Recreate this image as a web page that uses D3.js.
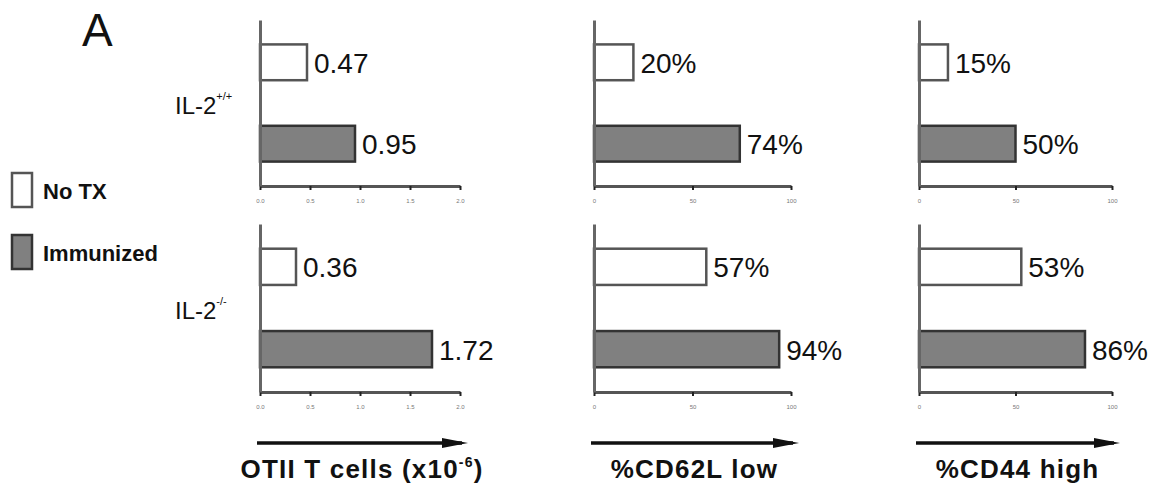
<!DOCTYPE html>
<html>
<head>
<meta charset="utf-8">
<script src="https://cdn.jsdelivr.net/npm/d3@7"></script>
<style>
  body { margin: 0; background: #fff; }
  text { font-family: "Liberation Sans", Arial, sans-serif; }
</style>
</head>
<body>
<div id="chart"></div>
<script>
// rows (genotype) and bar series
var genotypes = ["+/+", "-/-"];
var series = ["No TX", "Immunized"];

// OTII T cells (x10^-6)
var otiiNoTx = [0.47, 0.36];
var otiiImmunized = [0.95, 1.72];
// % CD62L low
var cd62NoTx = [20, 57];
var cd62Immunized = [74, 94];
// % CD44 high
var cd44NoTx = [15, 53];
var cd44Immunized = [50, 86];

// tick values
var otiiTicks = [0, 0.5, 1, 1.5, 2];
var pctTicks = [0, 50, 100];

var width = 1166, height = 489;

var svg = d3.select("#chart")
    .append("svg")
    .attr("width", width)
    .attr("height", height);

var fill = d3.scaleOrdinal().domain(series).range(["#ffffff", "#808080"]);
var stroke = d3.scaleOrdinal().domain(series).range(["#555555", "#333333"]);

var panels = [
    { title: "OTII T cells (x10", sup: "-6", close: ")", noTx: otiiNoTx, imm: otiiImmunized,
      max: 2, ticks: otiiTicks, fmt: d3.format(".2f"), x0: 260, x1: 460 },
    { title: "%CD62L low", noTx: cd62NoTx, imm: cd62Immunized,
      max: 100, ticks: pctTicks, fmt: function (d) { return d + "%"; }, x0: 594, x1: 791 },
    { title: "%CD44 high", noTx: cd44NoTx, imm: cd44Immunized,
      max: 100, ticks: pctTicks, fmt: function (d) { return d + "%"; }, x0: 919, x1: 1112 }
];
var rows = [{ top: 20, bottom: 186 }, { top: 224, bottom: 392 }];

// arrow head
svg.append("defs").append("marker")
    .attr("id", "arrow")
    .attr("markerUnits", "userSpaceOnUse")
    .attr("markerWidth", 26)
    .attr("markerHeight", 10)
    .attr("refX", 20)
    .attr("refY", 5)
    .attr("orient", "auto")
    .append("path")
    .attr("d", "M0,0 L26,5 L0,10 Z")
    .attr("fill", "#111");

// panel letter
svg.append("text")
    .attr("x", 82)
    .attr("y", 46)
    .style("font-size", "46px")
    .attr("fill", "#111")
    .text("A");

// legend
var legend = svg.append("g")
    .selectAll("g")
    .data(series)
    .enter()
    .append("g")
    .attr("transform", function (d, i) { return "translate(12," + (173 + i * 62) + ")"; });
legend.append("rect")
    .attr("width", 20)
    .attr("height", 34)
    .attr("fill", function (d) { return fill(d); })
    .attr("stroke", function (d) { return stroke(d); })
    .attr("stroke-width", 2.5);
legend.append("text")
    .attr("x", 31)
    .attr("y", 18)
    .attr("dominant-baseline", "central")
    .style("font-size", "22px")
    .style("font-weight", "bold")
    .attr("fill", "#111")
    .text(function (d) { return d; });

// genotype labels
rows.forEach(function (r, ri) {
    var y = d3.scaleBand().domain(series).range([r.top, r.bottom]).paddingInner(0.56).paddingOuter(0.3);
    var mid = (y(series[0]) + y(series[1]) + y.bandwidth()) / 2;
    var t = svg.append("text")
        .attr("x", 175)
        .attr("y", mid + 2)
        .attr("dominant-baseline", "central")
        .style("font-size", "24px")
        .attr("fill", "#111")
        .text("IL-2");
    t.append("tspan")
        .attr("dy", -9)
        .style("font-size", "11px")
        .text(genotypes[ri]);
});

panels.forEach(function (p) {
    var x = d3.scaleLinear().domain([0, p.max]).range([p.x0, p.x1]);

    rows.forEach(function (r, ri) {
        var y = d3.scaleBand().domain(series).range([r.top, r.bottom]).paddingInner(0.56).paddingOuter(0.3);
        var vals = [
            { s: series[0], v: p.noTx[ri] },
            { s: series[1], v: p.imm[ri] }
        ];
        var g = svg.append("g");

        g.selectAll("rect")
            .data(vals)
            .enter()
            .append("rect")
            .attr("x", x(0))
            .attr("y", function (d) { return y(d.s); })
            .attr("width", function (d) { return x(d.v) - x(0); })
            .attr("height", y.bandwidth())
            .attr("fill", function (d) { return fill(d.s); })
            .attr("stroke", function (d) { return stroke(d.s); })
            .attr("stroke-width", 2.5);

        g.selectAll(".val")
            .data(vals)
            .enter()
            .append("text")
            .attr("class", "val")
            .attr("x", function (d) { return x(d.v) + 7; })
            .attr("y", function (d) { return y(d.s) + y.bandwidth() / 2 + 1; })
            .attr("dominant-baseline", "central")
            .style("font-size", "28px")
            .attr("fill", "#111")
            .text(function (d) { return p.fmt(d.v); });

        // x axis
        var ax = g.append("g")
            .attr("transform", "translate(0," + r.bottom + ")")
            .call(d3.axisBottom(x).tickValues(p.ticks).tickSize(4).tickSizeOuter(0).tickPadding(9));
        ax.select(".domain").attr("stroke", "#555").attr("stroke-width", 3);
        ax.selectAll(".tick line").attr("stroke", "#222").attr("stroke-width", 2);
        ax.selectAll(".tick text").style("font-size", "6px").attr("fill", "#777");

        // y axis
        var ay = g.append("g")
            .attr("transform", "translate(" + x(0) + ",0)")
            .call(d3.axisLeft(y).tickSize(0).tickSizeOuter(0).tickFormat(""));
        ay.select(".domain").attr("stroke", "#666").attr("stroke-width", 3);
    });

    // arrow and axis title
    svg.append("line")
        .attr("x1", p.x0 - 3)
        .attr("x2", p.x1 + 2)
        .attr("y1", 443)
        .attr("y2", 443)
        .attr("stroke", "#111")
        .attr("stroke-width", 3.5)
        .attr("marker-end", "url(#arrow)");

    var title = svg.append("text")
        .attr("x", (p.x0 + p.x1) / 2 + 2)
        .attr("y", 478)
        .attr("text-anchor", "middle")
        .style("font-size", "26px")
        .style("font-weight", "bold")
        .style("letter-spacing", "1.2px")
        .attr("fill", "#111")
        .text(p.title);
    if (p.sup) {
        title.append("tspan").attr("dy", -11).style("font-size", "14px").text(p.sup);
        title.append("tspan").attr("dy", 11).text(p.close);
    }
});
</script>
</body>
</html>
